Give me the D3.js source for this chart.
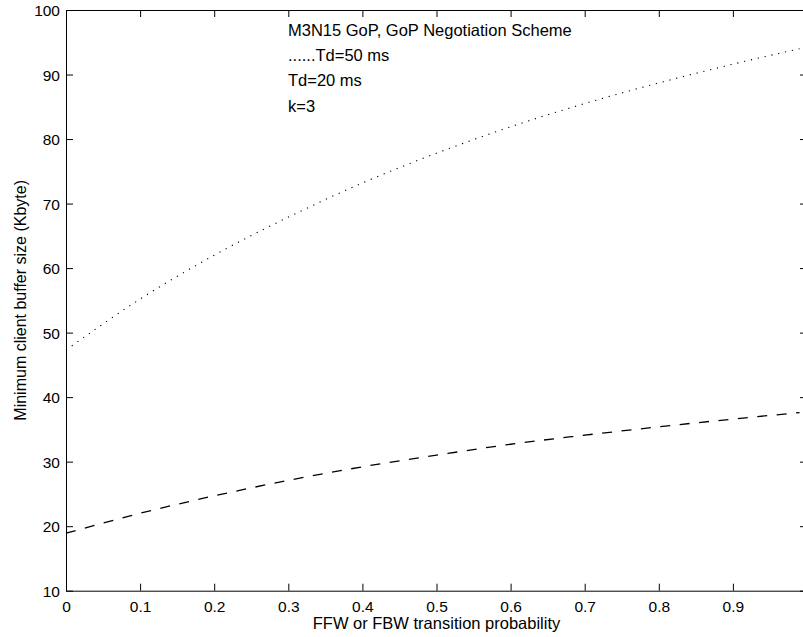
<!DOCTYPE html>
<html>
<head>
<meta charset="utf-8">
<script src="https://cdn.jsdelivr.net/npm/d3@7/dist/d3.min.js"></script>
<style>
  html, body { margin: 0; padding: 0; background: #fff; }
  svg { display: block; }
  text { font-family: "Liberation Sans", Arial, Helvetica, sans-serif; fill: #000; }
</style>
</head>
<body>
<svg id="chart" width="803" height="637"></svg>
<script>
// Transition probability (x) and minimum client buffer size in Kbyte (y)
const probability = [0, 0.1, 0.2, 0.3, 0.4, 0.5, 0.6, 0.7, 0.8, 0.9, 0.99];
const bufferTd50 = [47.3, 55.2, 62.0, 67.9, 73.2, 77.8, 81.9, 85.5, 88.7, 91.6, 94.0];
const bufferTd20 = [18.9, 22.0, 24.7, 27.1, 29.2, 31.0, 32.7, 34.1, 35.4, 36.6, 37.6];

const xTicks = [0, 0.1, 0.2, 0.3, 0.4, 0.5, 0.6, 0.7, 0.8, 0.9];
const yTicks = [10, 20, 30, 40, 50, 60, 70, 80, 90, 100];

const notes = ["M3N15 GoP, GoP Negotiation Scheme", "......Td=50 ms", "Td=20 ms", "k=3"];
const xTitle = "FFW or FBW transition probability";
const yTitle = "Minimum client buffer size (Kbyte)";

const svg = d3.select("#chart");
const plotLeft = 66, plotRight = 807, plotTop = 10, plotBottom = 590.7;
const tickLen = 7;

const x = d3.scaleLinear().domain([0, 1]).range([plotLeft, plotRight]);
const y = d3.scaleLinear().domain([10, 100]).range([plotBottom, plotTop]);

// Curves
const line = d3.line()
  .x((d, i) => x(probability[i]))
  .y(d => y(d))
  .curve(d3.curveMonotoneX);

svg.append("path")
  .datum(bufferTd50)
  .attr("d", line)
  .attr("fill", "none")
  .attr("stroke", "#000")
  .attr("stroke-width", 1.1)
  .attr("stroke-dasharray", "1.2,5.8");

svg.append("path")
  .datum(bufferTd20)
  .attr("d", line)
  .attr("fill", "none")
  .attr("stroke", "#000")
  .attr("stroke-width", 1.3)
  .attr("stroke-dasharray", "10,9.5");

// Axes: ticks pointing into the box on all four sides
function styleAxis(g) {
  g.selectAll(".domain").attr("stroke", "#000").attr("stroke-width", 1);
  g.selectAll(".tick line").attr("stroke", "#000").attr("stroke-width", 1);
  g.selectAll(".tick text")
    .style("font-family", '"Liberation Sans", Arial, sans-serif')
    .attr("fill", "#000");
}

const gx = svg.append("g")
  .attr("transform", `translate(0,${plotBottom})`)
  .call(d3.axisBottom(x).tickValues(xTicks).tickSizeInner(-tickLen).tickSizeOuter(0)
    .tickPadding(0).tickFormat(d => String(d)));
gx.selectAll(".tick text").attr("y", 21).attr("dy", null).style("font-size", "15.5px");
gx.call(styleAxis);

const gxTop = svg.append("g")
  .attr("transform", `translate(0,${plotTop})`)
  .call(d3.axisTop(x).tickValues(xTicks).tickSizeInner(-tickLen).tickSizeOuter(0).tickFormat(""));
gxTop.call(styleAxis);

const gy = svg.append("g")
  .attr("transform", `translate(${plotLeft},0)`)
  .call(d3.axisLeft(y).tickValues(yTicks).tickSizeInner(-tickLen).tickSizeOuter(0)
    .tickPadding(0).tickFormat(d => String(d)));
gy.selectAll(".tick text").attr("x", -6).attr("dy", null).attr("y", 5.5)
  .attr("text-anchor", "end").style("font-size", "15.5px");
gy.call(styleAxis);

const gyRight = svg.append("g")
  .attr("transform", `translate(${plotRight},0)`)
  .call(d3.axisRight(y).tickValues(yTicks).tickSizeInner(-tickLen).tickSizeOuter(0).tickFormat(""));
gyRight.call(styleAxis);

// Axis titles
svg.append("text")
  .attr("x", (plotLeft + plotRight) / 2)
  .attr("y", 629)
  .attr("text-anchor", "middle")
  .style("font-size", "16.5px")
  .text(xTitle);

svg.append("text")
  .attr("transform", `translate(26,${(plotTop + plotBottom) / 2}) rotate(-90)`)
  .attr("text-anchor", "middle")
  .style("font-size", "16px")
  .text(yTitle);

// Annotation block
svg.append("g")
  .selectAll("text")
  .data(notes)
  .join("text")
  .attr("x", 288)
  .attr("y", (d, i) => 36 + i * 25.2)
  .style("font-size", "16.5px")
  .text(d => d);
</script>
</body>
</html>
